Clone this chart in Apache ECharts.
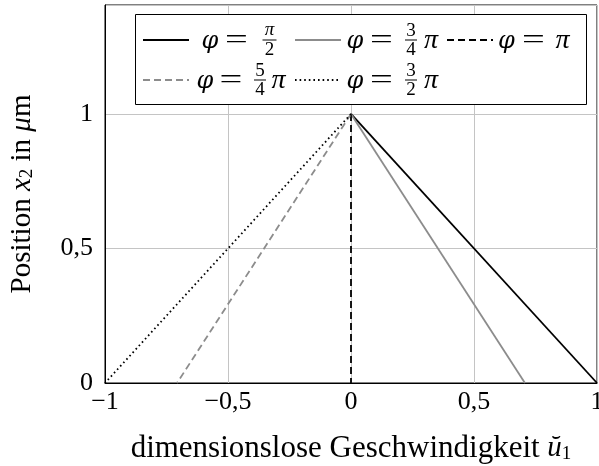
<!DOCTYPE html>
<html><head><meta charset="utf-8">
<script src="https://cdn.jsdelivr.net/npm/echarts@6/dist/echarts.min.js"></script>
<style>html,body{margin:0;padding:0;background:#fff}#c{width:599px;height:466px}</style>
</head><body><div id="c"></div>
<script>
// ---- data ----
const seriesNames = ['φ = π/2', 'φ = 3/4 π', 'φ = π', 'φ = 5/4 π', 'φ = 3/2 π'];
const u1AtX2Zero = [1, 0.707, 0, -0.707, -1];   // dimensionless speed where x2 = 0
const u1AtX2One  = [0, 0, 0, 0, 0];              // dimensionless speed where x2 = 1
const x2Ends = [1, 0];
const xTicks = [-1, -0.5, 0, 0.5, 1];
const xTickLabels = ['−1', '−0,5', '0', '0,5', '1'];
const yTicks = [0, 0.5, 1];
const yTickLabels = ['0', '0,5', '1'];

// ---- styles ----
const colors = ['#000000', '#8c8c8c', '#000000', '#8c8c8c', '#000000'];
const dashes = [null, null, [7, 4], [7, 4], [1.6, 3]];
const SERIF = '"Liberation Serif", serif';
const DSERIF = '"DejaVu Serif", serif';

function tickLabel(ticks, labels) {
  return v => { const i = ticks.findIndex(t => Math.abs(t - v) < 1e-9); return i >= 0 ? labels[i] : ''; };
}

const series = seriesNames.map((n, i) => ({
  name: n, type: 'line', symbol: 'none', silent: true,
  data: [[u1AtX2One[i], x2Ends[0]], [u1AtX2Zero[i], x2Ends[1]]],
  lineStyle: { color: colors[i], width: 1.8, type: dashes[i] || 'solid' },
  z: 3
}));

// ---- legend (drawn as graphic) ----
const graphics = [];
graphics.push({ type: 'rect', z: 50, silent: true,
  shape: { x: 135.5, y: 14.5, width: 451, height: 90 },
  style: { fill: '#fff', stroke: '#000', lineWidth: 1 } });
const legendIcons = [ // [x0, x1, cy] per series
  [143, 189, 40], [295, 341, 40], [447, 493, 40], [143, 189, 80], [295, 341, 80]
];
legendIcons.forEach((p, i) => {
  graphics.push({ type: 'line', z: 60, silent: true,
    shape: { x1: p[0], y1: p[2], x2: p[1], y2: p[2] },
    style: { stroke: colors[i], lineWidth: 1.8, lineDash: dashes[i] } });
});
const legendRows = [
  { cy: 40, pieces: [
    { t: 'φ', x: 210, k: 'phi' }, { t: '=', x: 236.5, k: 'o' }, { f: ['π', '2'], x: 269.5, w: 14 },
    { t: 'φ', x: 355, k: 'phi' }, { t: '=', x: 381.5, k: 'o' }, { f: ['3', '4'], x: 411, w: 12 }, { t: 'π', x: 431, k: 'v' },
    { t: 'φ', x: 506.5, k: 'phi' }, { t: '=', x: 533.5, k: 'o' }, { t: 'π', x: 562.5, k: 'v' }
  ]},
  { cy: 80, pieces: [
    { t: 'φ', x: 205, k: 'phi' }, { t: '=', x: 231, k: 'o' }, { f: ['5', '4'], x: 260, w: 12 }, { t: 'π', x: 278.5, k: 'v' },
    { t: 'φ', x: 355, k: 'phi' }, { t: '=', x: 381.5, k: 'o' }, { f: ['3', '2'], x: 411, w: 12 }, { t: 'π', x: 431, k: 'v' }
  ]}
];
function txt(t, x, y, font, sx) {
  graphics.push({ type: 'text', x: x, y: y, z: 100, silent: true, scaleX: sx || 1,
    style: { text: t, font: font, fill: '#000', align: 'center', verticalAlign: 'middle' } });
}
legendRows.forEach(r => r.pieces.forEach(p => {
  if (p.f) {
    const numIsPi = p.f[0] === 'π';
    txt(p.f[0], p.x, r.cy - (numIsPi ? 10 : 9), (numIsPi ? 'italic ' : '') + '19px ' + SERIF);
    txt(p.f[1], p.x, r.cy + 10, '19px ' + SERIF);
    graphics.push({ type: 'rect', z: 100, silent: true,
      shape: { x: p.x - p.w / 2, y: r.cy - 0.5, width: p.w, height: 1 }, style: { fill: '#000' } });
  } else if (p.k === 'phi') {
    txt(p.t, p.x, r.cy + 2, 'italic 24px ' + DSERIF);
  } else if (p.k === 'o') {
    txt(p.t, p.x, r.cy + 1, '27px ' + SERIF, 1.5);
  } else {
    txt(p.t, p.x, r.cy + 1, 'italic 28px ' + SERIF);
  }
}));

const nameRich = {
  i: { fontStyle: 'italic', fontFamily: SERIF, fontSize: 29 },
  s: { fontFamily: SERIF, fontSize: 19, verticalAlign: 'bottom' }
};

const chart = echarts.init(document.getElementById('c'), null, { renderer: 'canvas' });
chart.setOption({
  animation: false,
  backgroundColor: '#fff',
  grid: { left: 105, right: 2, top: 5, bottom: 83, show: true, borderColor: '#000', borderWidth: 1,
          containLabel: false, outerBoundsMode: 'none' },
  xAxis: {
    type: 'value', min: -1, max: 1, interval: 0.5,
    axisLine: { show: true, onZero: false, lineStyle: { color: '#000', width: 1 } },
    axisTick: { show: false },
    splitLine: { show: true, lineStyle: { color: '#c4c4c4', width: 1 } },
    axisLabel: { formatter: tickLabel(xTicks, xTickLabels), color: '#000', fontFamily: SERIF, fontSize: 26, margin: 6, hideOverlap: false },
    name: 'dimensionslose Geschwindigkeit {i|ŭ}{s|1}',
    nameLocation: 'middle', nameGap: 50,
    nameTextStyle: { color: '#000', fontFamily: SERIF, fontSize: 31, rich: nameRich }
  },
  yAxis: {
    type: 'value', min: 0, max: 1.405, interval: 0.5,
    axisLine: { show: true, onZero: false, lineStyle: { color: '#000', width: 1 } },
    axisTick: { show: false },
    splitLine: { show: true, lineStyle: { color: '#c4c4c4', width: 1 } },
    axisLabel: { formatter: tickLabel(yTicks, yTickLabels), color: '#000', fontFamily: SERIF, fontSize: 26, margin: 12, showMaxLabel: false },
    name: 'Position {i|x}{s|2} in {i|μ}m',
    nameLocation: 'middle', nameGap: 68, nameRotate: 90,
    nameTextStyle: { color: '#000', fontFamily: SERIF, fontSize: 29, rich: nameRich }
  },
  graphic: graphics,
  series: series
});
</script>
</body></html>
